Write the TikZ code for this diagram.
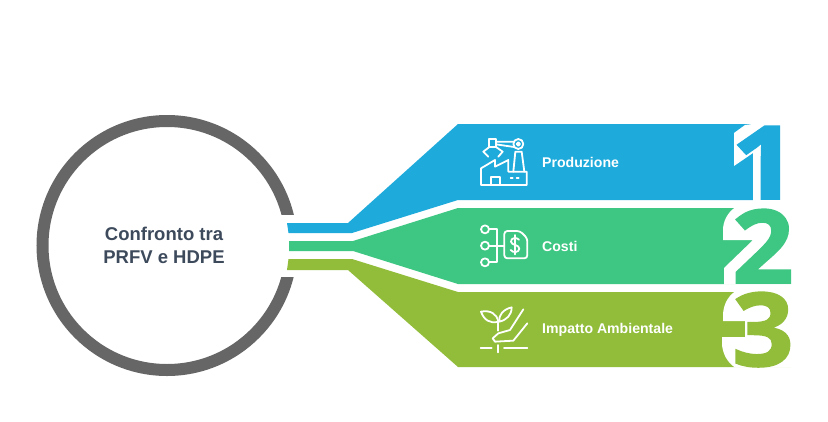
\documentclass[tikz,border=0pt]{standalone}
\usepackage{graphicx}
\usepackage{fontspec}
\setmainfont{Liberation Sans}
\newfontfamily\digitfont{Open Sans}[UprightFont=* Bold,FakeBold=1.5]
\definecolor{cblue}{HTML}{1EAADB}
\definecolor{cgreen}{HTML}{3EC783}
\definecolor{colive}{HTML}{91BD3A}
\definecolor{cring}{HTML}{666666}
\definecolor{ctitle}{HTML}{3D4A5C}
\tikzset{
  ring/.style={circle,draw=cring,line width=12pt,minimum size=249pt,inner sep=0pt,align=center,
    font=\fontsize{18.5}{23.5}\selectfont\bfseries,text=ctitle},
  label/.style={anchor=west,text=white,inner sep=0pt,font=\fontsize{14.1}{16}\selectfont\bfseries},
  bignum/.style={inner sep=0pt,anchor=base east,font=\digitfont\fontsize{102}{104}\selectfont},
  icon/.style={draw=white,line width=1.8pt,line join=round,line cap=round},
}
\begin{document}
\begin{tikzpicture}[x=1pt,y=-1pt]
\useasboundingbox (0,0) rectangle (828,421);
\node[ring] (hub) at (167,245.5) {\hspace*{-6pt}Confronto tra\\\hspace*{-6pt}PRFV e HDPE};
\fill[white] (280,215) rectangle (310,277);
% bands
\fill[cblue] (287,223) -- (348,223) -- (458,124) -- (779,124) -- (779,200) -- (458,200) -- (352,233) -- (288.5,233) -- cycle;
\fill[cgreen] (289,241) -- (353,241) -- (458,208) -- (791,208) -- (791,284) -- (458,284) -- (353,251) -- (289,251) -- cycle;
\fill[colive] (288.5,259) -- (352,259) -- (458,292) -- (791,292) -- (791,367) -- (458,367) -- (348,270) -- (287,270) -- cycle;
% white halos
\fill[white] (760,123) -- (745,125) -- (734,133) -- (734,166) -- (753,153) -- (753,201) -- (800,201) -- (800,123) -- cycle;
\fill[white] (735,207.5) .. controls (727,213) and (723,222) .. (723,230) -- (723,240) -- (753,240) -- (724,268) -- (724,284.5) -- (800,284.5) -- (800,207.5) -- cycle;
\fill[white] (735,291.5) .. controls (727,297) and (723,306) .. (723,316) -- (723,321) -- (745,321) -- (745,337) -- (722,337) -- (722,345) .. controls (723,354) and (727,362) .. (735,367.5) -- (800,367.5) -- (800,291.5) -- cycle;
% digits
\node[bignum,text=cblue] (n1) at (798,199) {\scalebox{1.15}[1]{1}};
\node[bignum,text=cgreen] (n2) at (794,283) {\scalebox{1.06}[1]{2}};
\node[bignum,text=colive] (n3) at (794,366) {\scalebox{1.06}[1]{3}};
% labels
\node[label] (l1) at (542,162) {Produzione};
\node[label] (l2) at (542,246) {Costi};
\node[label] (l3) at (542,330) {Impatto Ambientale};
% icon 1
\begin{scope}[shift={(470,125)},x=.3333pt,y=-.3333pt]
\draw[icon] (33,130) -- (75,105) -- (75,125) -- (115,105) -- (115,140) -- (170,140) -- (170,180) -- (33,180) -- cycle;
\draw[icon] (62,180) -- (62,155) -- (90,155) -- (90,180);
\draw[icon] (122,160) -- (128,160) (140,160) -- (146,160);
\draw[icon] (130,140) -- (136,80) -- (155,80) -- (163,140);
\draw[icon] (145,57) circle[radius=15];
\draw[icon] (145,57) circle[radius=5];
\draw[icon] (78,50) -- (130,50) (78,58) -- (132,66);
\draw[icon] (58,42) -- (78,42) -- (78,66) -- (58,66) -- cycle;
\draw[icon] (58,66) -- (40,80) -- (55,95);
\draw[icon] (78,66) -- (98,80) -- (85,95);
\end{scope}
% icon 2
\begin{scope}[shift={(470,215)},x=.3333pt,y=-.3333pt]
\draw[icon] (45,43) circle[radius=12];
\draw[icon] (45,92) circle[radius=12];
\draw[icon] (45,142) circle[radius=12];
\draw[icon] (57,43) -- (80,43) -- (80,142) -- (57,142) (57,92) -- (103,92);
\draw[icon,rounded corners=3pt] (103,48) -- (150,48) -- (172,70) -- (172,130) -- (103,130) -- cycle;
\draw[icon] (147,74) .. controls (140,66) and (122,68) .. (123,80) .. controls (124,92) and (148,88) .. (148,101) .. controls (148,113) and (128,114) .. (122,105);
\draw[icon] (135,60) -- (135,118);
\end{scope}
% icon 3
\begin{scope}[shift={(470,300)},x=.3333pt,y=-.3333pt]
\draw[icon] (33,35) .. controls (60,30) and (80,40) .. (85,65) .. controls (60,72) and (42,60) .. (33,35) -- cycle;
\draw[icon] (125,22) .. controls (100,28) and (85,45) .. (88,65) .. controls (110,60) and (125,45) .. (125,22) -- cycle;
\draw[icon] (85,65) -- (85,92);
\draw[icon] (160,28) -- (120,90) -- (85,100) -- (68,115) -- (75,125) -- (130,122) -- (172,70);
\draw[icon] (32,143) -- (65,143) (85,135) -- (85,157) (102,143) -- (172,143);
\end{scope}
\end{tikzpicture}
\end{document}
